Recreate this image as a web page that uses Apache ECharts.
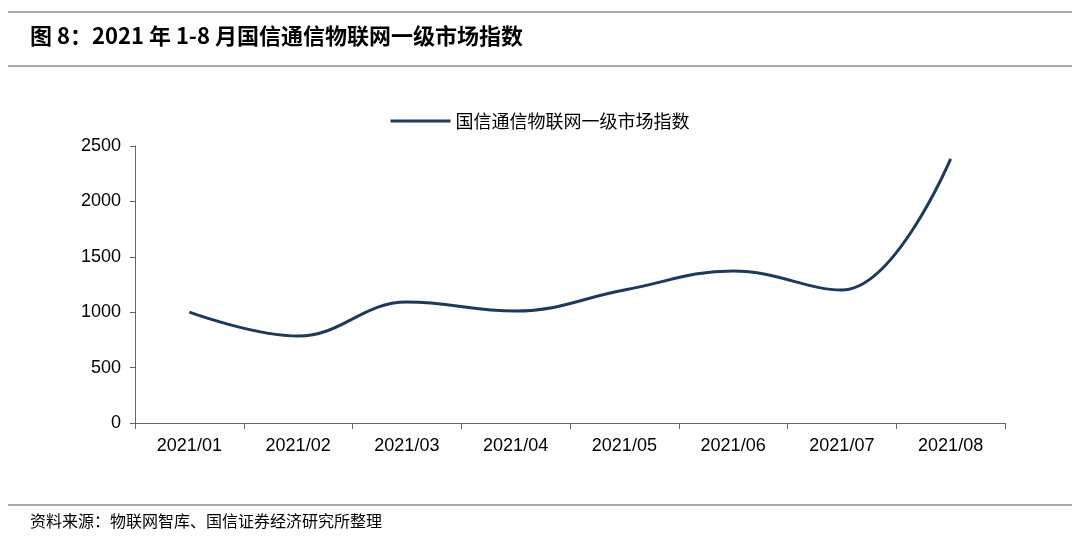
<!DOCTYPE html>
<html><head><meta charset="utf-8">
<script src="https://cdn.jsdelivr.net/npm/echarts@6/dist/echarts.min.js"></script>
<style>body{margin:0;background:#fff}#c{width:1080px;height:548px}</style></head>
<body><div id="c"></div>
<script>
const categories=['2021/01','2021/02','2021/03','2021/04','2021/05','2021/06','2021/07','2021/08'];
const values=[1000,785,1092,1011,1200,1372,1200,2383];
const seriesName='国信通信物联网一级市场指数';
const font='"Noto Sans CJK SC", sans-serif';
const chart=echarts.init(document.getElementById('c'));
chart.setOption({
  animation:false,
  graphic:[
    {type:'line',shape:{x1:8,y1:12,x2:1072,y2:12},style:{stroke:'#555',lineWidth:1}},
    {type:'line',shape:{x1:8,y1:66,x2:1072,y2:66},style:{stroke:'#555',lineWidth:1}},
    {type:'text',left:30,top:25,style:{text:'图 8：2021 年 1-8 月国信通信物联网一级市场指数',font:'bold 22px '+font,fill:'#000'}},
    {type:'line',shape:{x1:8,y1:505,x2:1072,y2:505},style:{stroke:'#555',lineWidth:1}},
    {type:'text',left:30,top:513,style:{text:'资料来源：物联网智库、国信证券经济研究所整理',font:'16px '+font,fill:'#000'}}
  ],
  legend:{top:107,left:'center',itemWidth:60,itemHeight:3,icon:'rect',textStyle:{fontSize:18,fontFamily:font,color:'#000'},data:[seriesName]},
  grid:{left:135,right:75,top:146,bottom:125},
  xAxis:{type:'category',data:categories,boundaryGap:true,
    axisLine:{lineStyle:{color:'#666'}},axisTick:{show:true,interval:0,length:6,lineStyle:{color:'#666'}},
    axisLabel:{fontSize:18,fontFamily:'Arial, Liberation Sans',color:'#000',margin:14}},
  yAxis:{type:'value',min:0,max:2500,interval:500,
    axisLine:{show:true,lineStyle:{color:'#666'}},axisTick:{show:true,length:5,lineStyle:{color:'#666'}},
    splitLine:{show:false},
    axisLabel:{fontSize:18,fontFamily:'Arial, Liberation Sans',color:'#000',margin:14,formatter:v=>String(v)}},
  series:[{name:seriesName,type:'line',data:values,smooth:0.4,symbol:'none',lineStyle:{color:'#1a3a63',width:3},itemStyle:{color:'#1a3a63'}}]
});
</script></body></html>
